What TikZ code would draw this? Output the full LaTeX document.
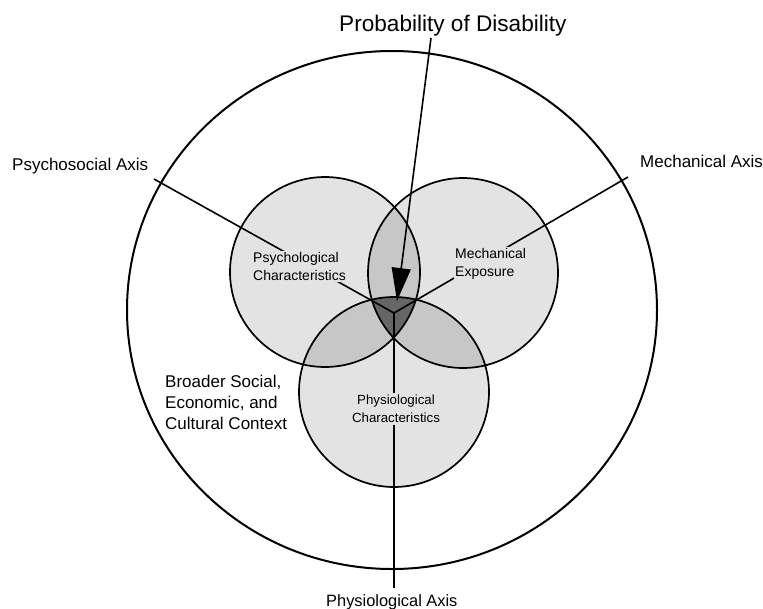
\documentclass[tikz,border=0pt]{standalone}
\usepackage{fontspec}
\setmainfont{Liberation Sans}
\usepackage{xcolor}
\usetikzlibrary{arrows.meta}
\definecolor{one}{gray}{0.89}
\definecolor{two}{gray}{0.78}
\definecolor{three}{gray}{0.40}

\begin{document}
\begin{tikzpicture}[x=1pt,y=-1pt,
  ring/.style={draw,line width=1.7pt},
  ax/.style={line width=1.6pt},
  lab/.style={font=\fontsize{17}{21}\selectfont,anchor=base west,inner sep=0pt},
  inlab/.style={font=\fontsize{14}{18.5}\selectfont,align=left,fill=one,inner sep=1pt,anchor=north west}]
  \useasboundingbox (0,0) rectangle (763,608);
  \coordinate (O) at (392,310);
  \coordinate (L) at (325,272);
  \coordinate (R) at (463,273);
  \coordinate (B) at (394,392);
  \coordinate (ctr) at (394,313);
  \fill[one] (L) circle[radius=95pt];
  \fill[one] (R) circle[radius=95pt];
  \fill[one] (B) circle[radius=95pt];
  \begin{scope}
    \clip (R) circle[radius=95pt];
    \fill[two] (B) circle[radius=95pt];
  \end{scope}
  \begin{scope}
    \clip (L) circle[radius=95pt];
    \fill[two] (R) circle[radius=95pt];
    \fill[two] (B) circle[radius=95pt];
    \clip (R) circle[radius=95pt];
    \fill[three] (B) circle[radius=95pt];
  \end{scope}
  \draw[line width=2pt] (O) ellipse[x radius=265pt,y radius=259pt];
  \draw[ring] (L) circle[radius=95pt];
  \draw[ring] (R) circle[radius=95pt];
  \draw[ring] (B) circle[radius=95pt];
  \coordinate (psyEnd) at (154,179);
  \coordinate (mecEnd) at (628,177);
  \coordinate (phyEnd) at (394,588);
  \coordinate (probStart) at (431,38);
  \coordinate (probTip) at (397,301);
  \draw[ax] (psyEnd) -- (ctr);
  \draw[ax] (mecEnd) -- (ctr);
  \draw[ax] (phyEnd) -- (ctr);
  \draw[ax,-{Triangle[length=33pt,width=19pt]}] (probStart) -- (probTip);
  \node[inlab] (psych) at (252,251) {Psychological\\Characteristics};
  \node[inlab] (mech) at (454,247) {Mechanical\\Exposure};
  \node[inlab,align=center,anchor=north,inner sep=2pt,font=\fontsize{13.3}{18}\selectfont] (physio) at (396,393) {Physiological\\Characteristics};
  \node[lab,font=\fontsize{22.6}{26}\selectfont] (prob) at (339,31) {Probability of Disability};
  \node[lab] (psy) at (12,170) {Psychosocial Axis};
  \node[lab] (mec) at (640,167) {Mechanical Axis};
  \node[lab,font=\fontsize{16.4}{20}\selectfont] (phy) at (326,606) {Physiological Axis};
  \node[lab,align=left,anchor=north west] (ctx) at (165,375) {Broader Social,\\Economic, and\\Cultural Context};
\end{tikzpicture}
\end{document}
